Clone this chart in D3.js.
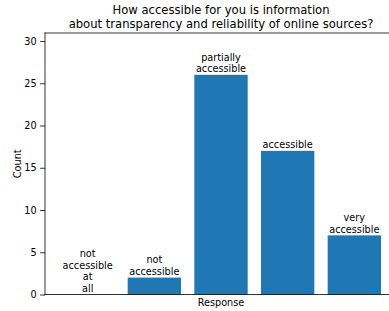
<!DOCTYPE html>
<meta charset="utf-8">
<script src="https://d3js.org/d3.v7.min.js"></script>
<style>
body { margin: 0; background: #fff; }
text { font-family: "DejaVu Sans", sans-serif; fill: #000; }
</style>
<body>
<script>

// the data
var categories = ["not accessible at all", "not accessible", "partially accessible", "accessible", "very accessible"];
var counts = [0, 2, 26, 17, 7];
var barLabels = [
  ["not", "accessible", "at", "all"],
  ["not", "accessible"],
  ["partially", "accessible"],
  ["accessible"],
  ["very", "accessible"]
];
var yTicks = [0, 5, 10, 15, 20, 25, 30];
var titleLines = ["How accessible for you is information", "about transparency and reliability of online sources?"];

var width = 389, height = 311;
var margin = {top: 33, right: -8, bottom: 16.5, left: 45};

var svg = d3.select("body").append("svg")
    .attr("width", width)
    .attr("height", height);

var x = d3.scaleBand()
    .domain(categories)
    .range([margin.left, width - margin.right])
    .paddingInner(0.2)
    .paddingOuter(0.24);

var y = d3.scaleLinear()
    .domain([0, 30.95])
    .range([height - margin.bottom, margin.top]);

// bars
svg.append("g")
    .selectAll("rect")
    .data(counts)
    .enter()
    .append("rect")
    .attr("x", function(d, i) { return x(categories[i]); })
    .attr("width", x.bandwidth())
    .attr("y", function(d) { return y(d); })
    .attr("height", function(d) { return y(0) - y(d); })
    .style("fill", "#1f77b4");

// labels on top of the bars
var fs = 9.7, lh = fs * 1.2;
svg.append("g")
    .selectAll("text")
    .data(counts)
    .enter()
    .append("text")
    .attr("text-anchor", "middle")
    .style("font-size", fs + "px")
    .each(function(d, i) {
        var lines = barLabels[i];
        var cx = x(categories[i]) + x.bandwidth() / 2;
        var base = y(d) - 2.5;
        d3.select(this).selectAll("tspan")
            .data(lines)
            .enter()
            .append("tspan")
            .attr("x", cx)
            .attr("y", function(l, j) { return base - (lines.length - 1 - j) * lh; })
            .text(function(l) { return l; });
    });

// y axis
var yAxis = svg.append("g")
    .attr("transform", "translate(" + margin.left + ",0)")
    .call(d3.axisLeft(y).tickValues(yTicks).tickSize(4.9).tickPadding(3.5));
yAxis.select(".domain").remove();
yAxis.selectAll("line").style("stroke", "#000").style("stroke-width", 0.8);
yAxis.selectAll("text").style("font-size", fs + "px").style("font-family", "DejaVu Sans, sans-serif");

// spines
var x0 = margin.left, x1 = width - margin.right;
svg.append("g")
    .selectAll("line")
    .data([
        [x0, y.range()[1], x1, y.range()[1]],
        [x0, y.range()[0], x1, y.range()[0]],
        [x0, y.range()[0], x0, y.range()[1]]
    ])
    .enter()
    .append("line")
    .attr("x1", function(d) { return d[0]; })
    .attr("y1", function(d) { return d[1]; })
    .attr("x2", function(d) { return d[2]; })
    .attr("y2", function(d) { return d[3]; })
    .style("stroke", "#000")
    .style("stroke-width", 0.8)
    .style("stroke-linecap", "square");

// axis labels
var cxAxis = (x0 + x1) / 2;
svg.append("text")
    .attr("x", cxAxis)
    .attr("y", 305.5)
    .attr("text-anchor", "middle")
    .style("font-size", fs + "px")
    .text("Response");

svg.append("text")
    .attr("transform", "translate(20.5," + ((y.range()[0] + y.range()[1]) / 2) + ") rotate(-90)")
    .attr("text-anchor", "middle")
    .style("font-size", fs + "px")
    .text("Count");

// title
svg.append("g")
    .selectAll("text")
    .data(titleLines)
    .enter()
    .append("text")
    .attr("x", cxAxis)
    .attr("y", function(d, i) { return 13.8 + i * 14; })
    .attr("text-anchor", "middle")
    .style("font-size", "11.6px")
    .text(function(d) { return d; });

</script>
</body>
</html>
